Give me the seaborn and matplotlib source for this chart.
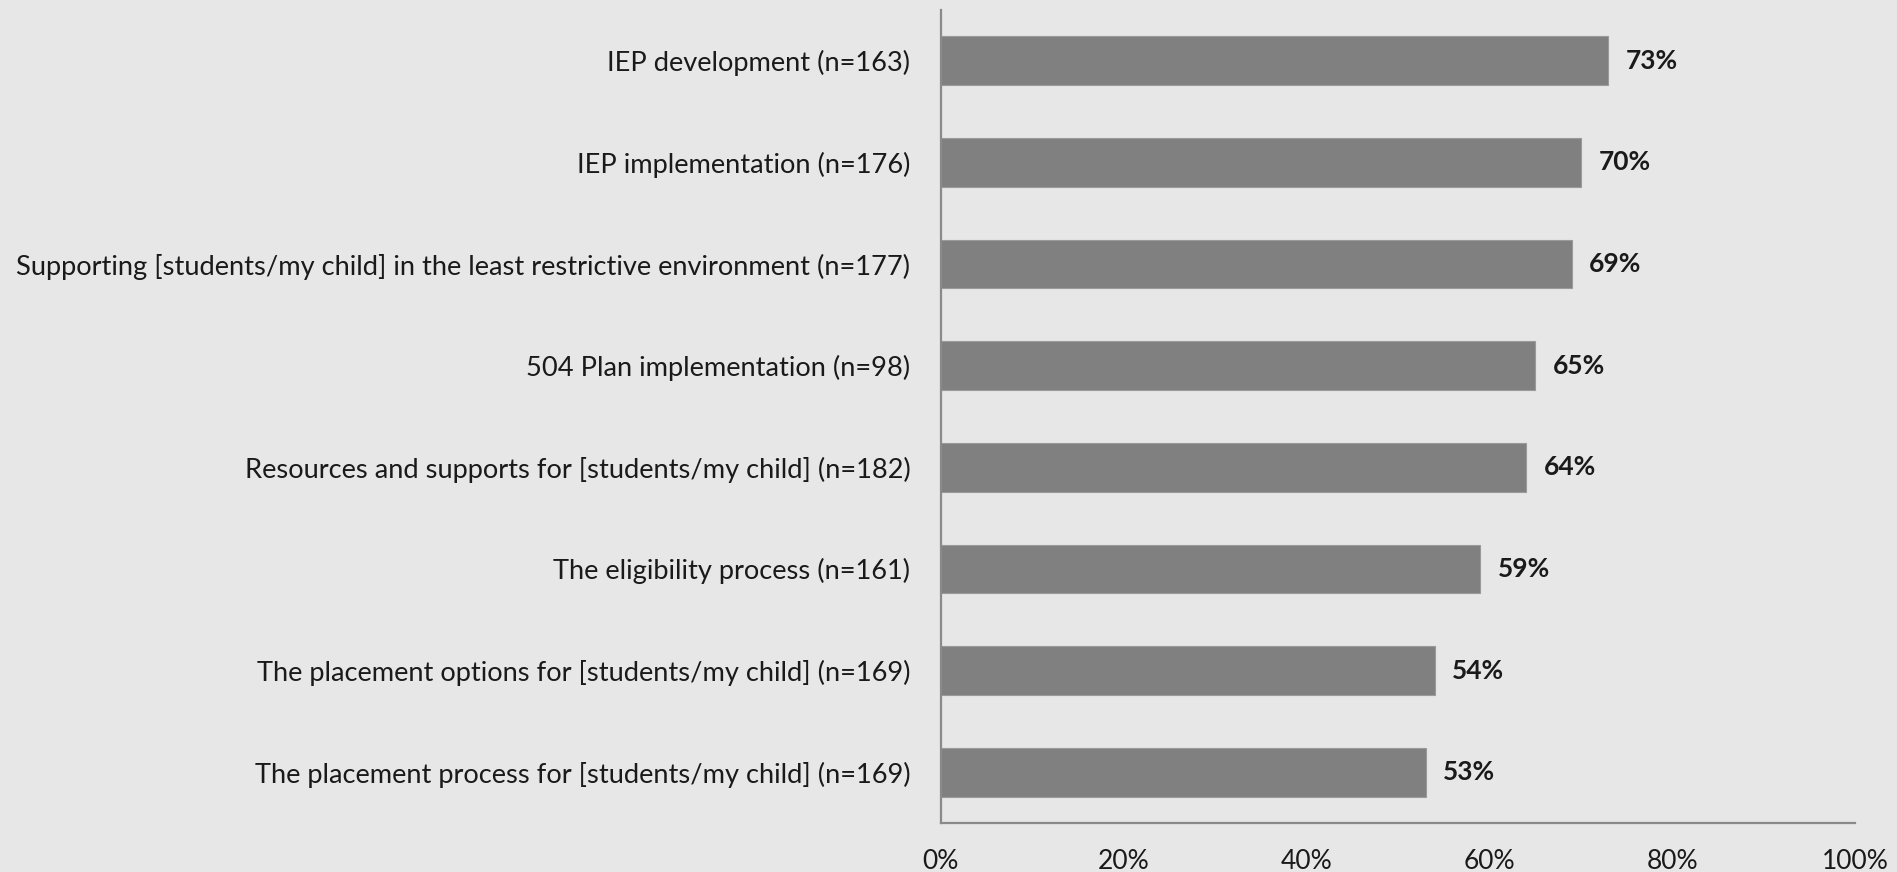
import matplotlib
matplotlib.use("Agg")
import matplotlib.pyplot as plt
import seaborn as sns
import pandas as pd

categories = [
    "IEP development (n=163)",
    "IEP implementation (n=176)",
    "Supporting [students/my child] in the least restrictive environment (n=177)",
    "504 Plan implementation (n=98)",
    "Resources and supports for [students/my child] (n=182)",
    "The eligibility process (n=161)",
    "The placement options for [students/my child] (n=169)",
    "The placement process for [students/my child] (n=169)",
]
values = [73, 70, 69, 65, 64, 59, 54, 53]
xticks = [0, 20, 40, 60, 80, 100]
xtick_labels = ["0%", "20%", "40%", "60%", "80%", "100%"]

bg = "#e7e7e7"
sns.set_theme(style="white")
plt.rcParams["font.family"] = ["Lato", "DejaVu Sans"]

df = pd.DataFrame({"cat": categories, "val": values})

fig = plt.figure(figsize=(18.97, 8.72), dpi=100, facecolor=bg)
ax = fig.add_axes([0.496, 0.0562, 0.482, 0.9323])
ax.set_facecolor(bg)

sns.barplot(data=df, x="val", y="cat", orient="h", color="#808080",
            width=0.48, saturation=1, ax=ax, edgecolor="#9a9a9a", linewidth=0.8)

for i, v in enumerate(values):
    ax.text(v + 1.9, i, f"{v}%", va="center", ha="left", fontsize=19,
            fontweight="bold", color="#1a1a1a")

ax.set_xlim(0, 100)
ax.set_ylim(7.5, -0.5)
ax.set_xticks(xticks)
ax.set_xticklabels(xtick_labels, fontsize=19, color="#1a1a1a")
ax.tick_params(axis="x", length=0, pad=19)
ax.tick_params(axis="y", length=0, pad=22, labelsize=19.6, labelcolor="#1a1a1a")
ax.set_xlabel("")
ax.set_ylabel("")
for s in ["top", "right"]:
    ax.spines[s].set_visible(False)
for s in ["left", "bottom"]:
    ax.spines[s].set_color("#8a8a8a")
    ax.spines[s].set_linewidth(1.6)

fig.savefig("out.png", dpi=100, facecolor=bg)
